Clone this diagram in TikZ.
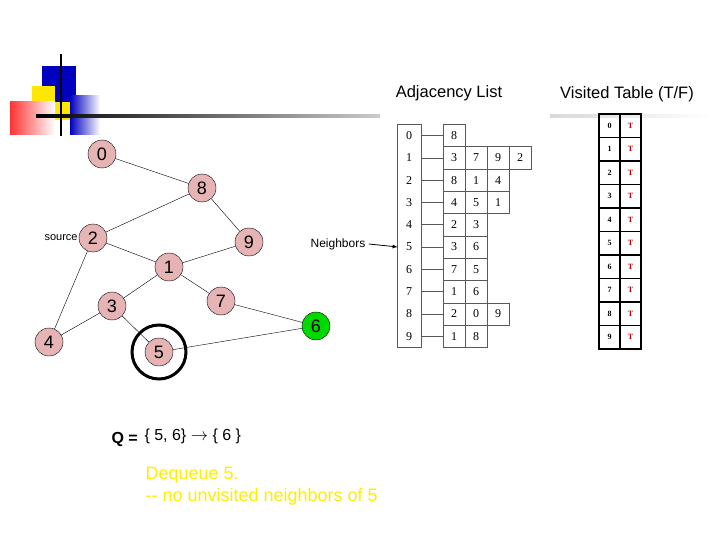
\documentclass[tikz,border=0pt]{standalone}
\usepackage{fontspec}
\setmainfont{Liberation Sans}
\newfontfamily\tms{Liberation Serif}
\definecolor{pk}{RGB}{230,180,180}
\begin{document}
\begin{tikzpicture}[x=1pt,y=-1pt,
  v/.style={circle,draw,fill=pk,minimum size=28pt,inner sep=0pt,font=\fontsize{18}{18}\selectfont},
  cell/.style={draw=gray!70!black,minimum width=22pt,minimum height=22.3pt,inner sep=0pt,font=\tms\fontsize{12}{12}\selectfont},
  vt/.style={draw,line width=1.5pt,minimum width=21pt,minimum height=23.5pt,inner sep=0pt,font=\tms\bfseries\fontsize{8}{8}\selectfont}]
\useasboundingbox (0,0) rectangle (720,540);
% decoration
\fill[blue!75!black] (42,66) rectangle (76,102);
\fill[yellow!90!orange] (32,86) rectangle (55,120);
\fill[yellow!90!orange] (55,102) rectangle (70,120);
\shade[left color=red!80,right color=white] (10,102) rectangle (55,135);
\shade[left color=blue!75!black,right color=white] (70,96) rectangle (100,135);
\shade[left color=black,right color=gray!40] (36,114.5) rectangle (380,117.5);
\draw[line width=2.5pt] (61,54) -- (61,136);
% graph
\node[v] (n0) at (102,154) {0};
\node[v] (n8) at (202,188) {8};
\node[v] (n2) at (93,238) {2};
\node[v] (n9) at (249,242) {9};
\node[v] (n1) at (169,267) {1};
\node[v] (n3) at (112,306) {3};
\node[v] (n7) at (221,301) {7};
\node[v,fill=green!85!black] (n6) at (316,326) {6};
\node[v] (n4) at (49,342) {4};
\node[v] (n5) at (159,352) {5};
\node[circle,draw,line width=3pt,minimum size=54pt] (big) at (159,352) {};
\foreach \a/\b in {0/8,8/2,8/9,2/1,2/4,9/1,1/3,1/7,3/4,3/5,7/6,5/6}
  \draw (n\a) -- (n\b);
\node[anchor=east,font=\fontsize{11}{11}\selectfont,inner sep=1pt] (src) at (n2.west) {source};
% titles
\node (adj) at (449,93) {\fontsize{16.5}{16.5}\selectfont Adjacency List};
\node (vis) at (627,94) {\fontsize{16.5}{16.5}\selectfont Visited Table (T/F)};
\shade[left color=gray!30,right color=white] (550,115) rectangle (712,118);
% adjacency list
\foreach \i in {0,...,9} {
  \node[cell,draw=none] (a\i) at (409,{135.5+22.3*\i}) {\i};
}
\draw[gray!70!black] (397,124) rectangle (421,347);
\foreach \i/\l in {0/{8},1/{3,7,9,2},2/{8,1,4},3/{4,5,1},4/{2,3},5/{3,6},6/{7,5},7/{1,6},8/{2,0,9},9/{1,8}} {
  \foreach \x [count=\k from 0] in \l {
    \node[cell] (c\i-\k) at ({454+22*\k},{135.5+22.3*\i}) {\x};
  }
  \draw[gray!70!black] (421,{135.5+22.3*\i}) -- (c\i-0.west);
}
\node[font=\fontsize{12}{12}\selectfont] (nb) at (338,244) {Neighbors};
\draw[-latex,thick] (nb.east) -- (a5.west);
% visited
\foreach \i in {0,...,9} {
  \node[vt] (vi\i) at (609.5,{125.75+23.5*\i}) {\i};
  \node[vt,text=red!75!black] (vv\i) at (630.5,{125.75+23.5*\i}) {T};
}
% queue text
\node[anchor=west,font=\bfseries\fontsize{16}{16}\selectfont] (q) at (108,439) {Q =};
\node[anchor=west,font=\fontsize{16}{16}\selectfont] (qv) at (141,436) {\{ 5, 6\} $\rightarrow$ \{ 6 \}};
\node[anchor=west,text=yellow!95!orange,font=\fontsize{18}{22}\selectfont,align=left] (dq) at (142,486) {Dequeue 5.\\ -{}- no unvisited neighbors of 5};
\end{tikzpicture}
\end{document}
